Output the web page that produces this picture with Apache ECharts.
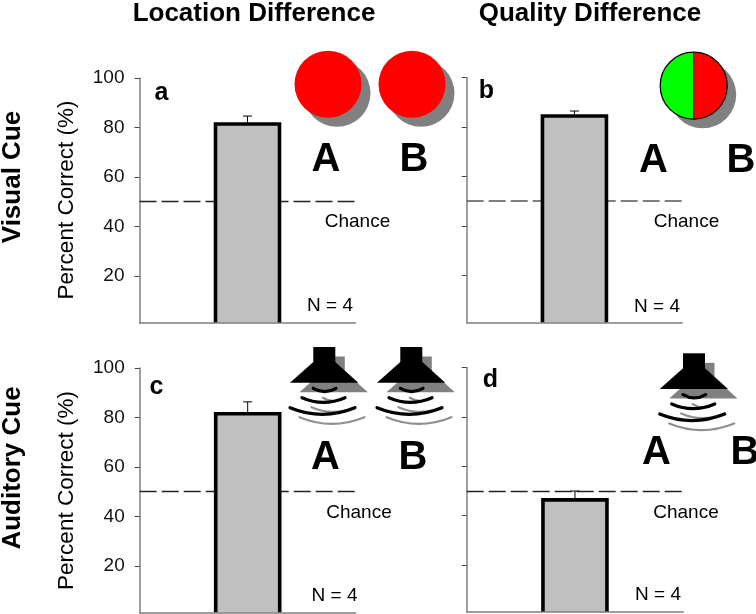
<!DOCTYPE html>
<html><head><meta charset="utf-8">
<style>html,body{margin:0;padding:0;background:#fff}#c{width:756px;height:614px}</style>
<script src="https://cdn.jsdelivr.net/npm/echarts@6/dist/echarts.min.js"></script>
</head><body><div id="c"></div>
<script>
const categories = ['Condition'];
const tickValues = [20, 40, 60, 80, 100];
const percentCorrect = [81.4, 84.5, 81.5, 46.4];
const errorTop = [84.6, 86.5, 86.3, 50];
const chanceLevel = [50, 50, 50, 50];
const axisMin = [0.9, 0.8, 1.1, 1.0];
const panelLetters = ['a', 'b', 'c', 'd'];

const FONT = '"Liberation Sans", Arial, sans-serif';
const frames = [
  {left: 139.5, top: 78, width: 216, height: 245, dash: '#222', labels: true},
  {left: 466.7, top: 77.7, width: 215.5, height: 244.8, dash: '#555', labels: false},
  {left: 139.7, top: 368, width: 216, height: 244.5, dash: '#222', labels: true},
  {left: 466.7, top: 367.7, width: 216.5, height: 244.2, dash: '#222', labels: false}
];

const grid = [], xAxis = [], yAxis = [], series = [];
frames.forEach((f, i) => {
  grid.push({left: f.left, top: f.top, width: f.width, height: f.height, containLabel: false});
  xAxis.push({gridIndex: i, type: 'category', data: categories, z: 4,
    axisLine: {lineStyle: {color: '#7f7f7f', width: 1.5}}, axisTick: {show: false}, axisLabel: {show: false}});
  yAxis.push({gridIndex: i, type: 'value', min: axisMin[i], max: 100, splitLine: {show: false},
    axisLine: {show: true, lineStyle: {color: '#7f7f7f', width: 1.5}},
    axisTick: {show: true, length: 5, customValues: tickValues, lineStyle: {color: '#444', width: 1}},
    axisLabel: {show: f.labels, customValues: tickValues, margin: 15, color: '#111', fontSize: 19, fontFamily: FONT}});
  series.push({type: 'bar', xAxisIndex: i, yAxisIndex: i, data: [percentCorrect[i]], barWidth: 64, z: 2,
    itemStyle: {color: '#c0c0c0'}, silent: true,
    markLine: {silent: true, symbol: 'none', z: 1, animation: false, label: {show: false},
      lineStyle: {color: f.dash, type: [17, 5], width: i === 1 ? 1.6 : 1.4},
      data: [{yAxis: chanceLevel[i]}]}});
  series.push({type: 'custom', xAxisIndex: i, yAxisIndex: i, z: 3, silent: true, clip: false,
    encode: {x: 0, y: [1, 2]},
    data: [[0, percentCorrect[i], errorTop[i]]],
    renderItem: (p, api) => {
      const top = api.coord([0, api.value(1)]);
      const err = api.coord([0, api.value(2)]);
      const base = api.coord([0, axisMin[i]]);
      const hw = 32;
      return {type: 'group', children: [
        {type: 'polyline', shape: {points: [[top[0] - hw, base[1]], [top[0] - hw, top[1]], [top[0] + hw, top[1]], [top[0] + hw, base[1]]]},
          style: {stroke: '#000', lineWidth: 3.6, fill: null, lineJoin: 'miter'}},
        {type: 'line', shape: {x1: top[0], y1: top[1], x2: top[0], y2: err[1]}, style: {stroke: '#000', lineWidth: 1}},
        {type: 'line', shape: {x1: top[0] - 4.5, y1: err[1], x2: top[0] + 4.5, y2: err[1]}, style: {stroke: '#000', lineWidth: 1}}
      ]};
    }});
});

function txt(text, x, y, size, bold, align, rotation) {
  return {type: 'text', x, y, rotation: rotation || 0, z: 10, silent: true,
    style: {text, fill: '#000', font: (bold ? 'bold ' : '') + size + 'px ' + FONT,
      align: align || 'center', verticalAlign: 'middle', textAlign: align || 'center', textVerticalAlign: 'middle'}};
}
const HALF = Math.PI / 2;
const labels = [
  txt('Location Difference', 254, 13.5, 26, true),
  txt('Quality Difference', 590, 13.5, 26, true),
  txt('Visual Cue', 13, 177, 26, true, 'center', HALF),
  txt('Auditory Cue', 13, 468, 26, true, 'center', HALF),
  txt('Percent Correct (%)', 67, 200, 22.5, false, 'center', HALF),
  txt('Percent Correct (%)', 67, 490.5, 22.5, false, 'center', HALF),
  txt(panelLetters[0], 161.5, 93, 25, true),
  txt(panelLetters[1], 486.5, 91, 25, true),
  txt(panelLetters[2], 156.5, 387, 25, true),
  txt(panelLetters[3], 490.5, 380, 25, true),
  txt('A', 326, 159.5, 40, true), txt('B', 414, 159.5, 40, true),
  txt('A', 653.5, 160.5, 40, true), txt('B', 741, 160.5, 40, true),
  txt('A', 325.5, 457.5, 40, true), txt('B', 413, 457.5, 40, true),
  txt('A', 656.5, 452.5, 40, true), txt('B', 745, 452.5, 40, true),
  txt('Chance', 357.5, 221.5, 19), txt('Chance', 686.5, 221.5, 19),
  txt('Chance', 359, 512.5, 19), txt('Chance', 686, 512.5, 19),
  txt('N = 4', 330, 306, 19), txt('N = 4', 657, 307, 19),
  txt('N = 4', 334.5, 596, 19), txt('N = 4', 658, 595, 19)
];

function disc(cx, cy, color) {
  return [
    {type: 'circle', z: 5, silent: true, shape: {cx: cx + 9, cy: cy + 9, r: 33.5}, style: {fill: '#808080'}},
    {type: 'circle', z: 6, silent: true, shape: {cx, cy, r: 33.5}, style: {fill: color}}
  ];
}
function splitDisc(cx, cy) {
  const r = 33.5;
  return [
    {type: 'circle', z: 5, silent: true, shape: {cx: cx + 9, cy: cy + 9, r}, style: {fill: '#808080'}},
    {type: 'sector', z: 6, silent: true, shape: {cx, cy, r0: 0, r, startAngle: HALF, endAngle: 3 * HALF, clockwise: true}, style: {fill: '#00ff00'}},
    {type: 'sector', z: 6, silent: true, shape: {cx, cy, r0: 0, r, startAngle: -HALF, endAngle: HALF, clockwise: true}, style: {fill: '#ff0000'}},
    {type: 'line', z: 7, silent: true, shape: {x1: cx, y1: cy - r, x2: cx, y2: cy + r}, style: {stroke: '#500', lineWidth: 1}},
    {type: 'circle', z: 7, silent: true, shape: {cx, cy, r}, style: {fill: null, stroke: '#000', lineWidth: 1.2}}
  ];
}
function cone(dx, dy, color) {
  return [
    {type: 'rect', shape: {x: dx, y: dy, width: 22, height: 20}, style: {fill: color}},
    {type: 'polygon', shape: {points: [[dx - 23.3, dy + 35.7], [dx, dy + 15], [dx + 22, dy + 15], [dx + 45, dy + 35.7]]}, style: {fill: color}}
  ];
}
function waves(dx, dy, color, w) {
  const arcs = [[0, 41.3, 22.7, 41.3, 11.3, 48], [-11.3, 50.7, 31.7, 50.7, 10, 60], [-23.3, 60.7, 41.7, 60.7, 9, 74]];
  return arcs.map(a => ({type: 'bezierCurve',
    shape: {x1: dx + a[0], y1: dy + a[1], x2: dx + a[2], y2: dy + a[3], cpx1: dx + a[4], cpy1: dy + a[5]},
    style: {stroke: color, lineWidth: w, fill: null, lineCap: 'round'}}));
}
function speaker(x, y) {
  return {type: 'group', x, y, z: 5, silent: true, children: [
    ...cone(9.5, 9.5, '#808080'), ...waves(9.5, 9.5, '#909090', 2.2),
    ...cone(0, 0, '#000'), ...waves(0, 0, '#000', 3.2)
  ]};
}
const icons = [
  ...disc(328, 84.3, '#ff0000'), ...disc(412, 84.3, '#ff0000'),
  ...splitDisc(693.7, 85.7),
  speaker(313.3, 347), speaker(400.3, 347), speaker(683, 353.3)
];

const chart = echarts.init(document.getElementById('c'), null, {renderer: 'canvas'});
chart.setOption({animation: false, backgroundColor: '#fff', grid, xAxis, yAxis, series,
  tooltip: {show: false}, graphic: {elements: [...icons, ...labels]}});
</script></body></html>
